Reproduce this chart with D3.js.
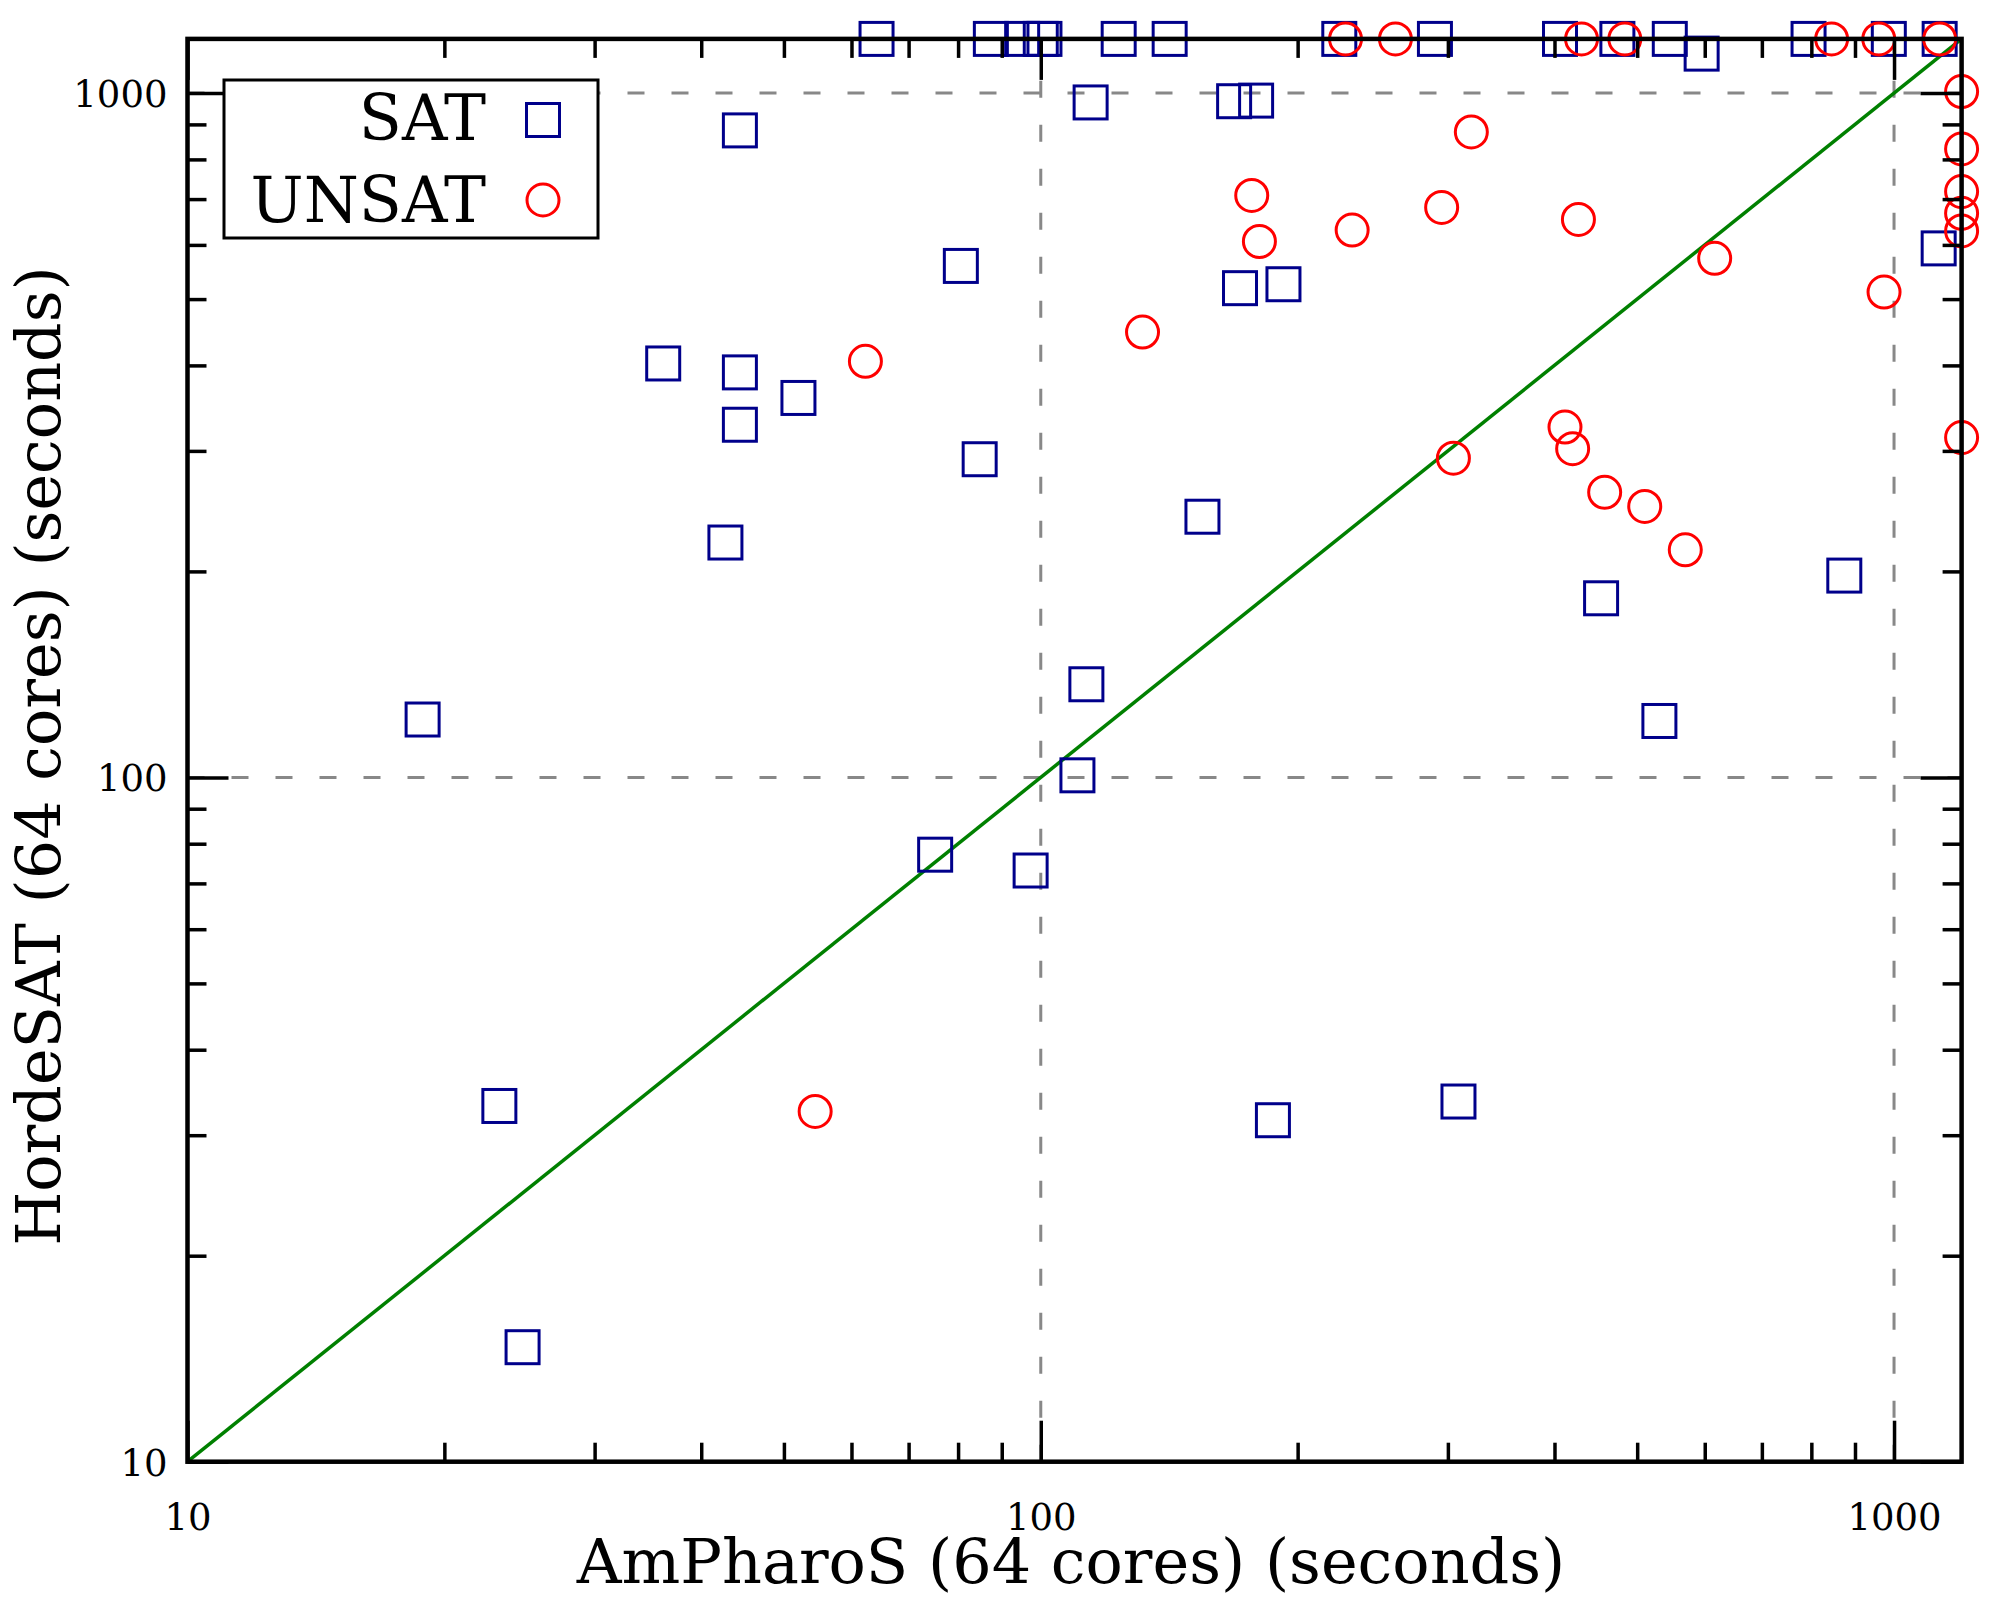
<!DOCTYPE html>
<html>
<head>
<meta charset="utf-8">
<script src="https://cdn.jsdelivr.net/npm/d3@7"></script>
<style>
  html, body { margin: 0; padding: 0; background: #ffffff; }
  svg { display: block; }
</style>
</head>
<body>
<script>
// ---------- data ----------
const satX = [64.2, 87.4, 95.1, 100.0, 101.0, 123.4, 141.6, 223.8, 289.7, 406, 474, 546, 794, 986, 1131,
              595, 1128,
              114.4, 168.5, 178.8, 44.4, 80.6, 171.2, 192.5, 36.1, 44.4, 44.4, 52.0, 84.8, 42.7, 154.7,
              453.6, 874.4, 113.1, 18.86, 530.9, 110.4, 75.2, 97.3, 23.2, 187.1, 308.7, 24.7];
const satY = [1200, 1200, 1200, 1200, 1200, 1200, 1200, 1200, 1200, 1200, 1200, 1200, 1200, 1200, 1200,
              1142, 593,
              969, 973, 975, 882, 559, 518.7, 525.6, 402.6, 390.7, 327.6, 358.5, 291.7, 220.4, 240.4,
              182.7, 197.2, 136.8, 121.5, 120.9, 100.7, 77.1, 73.1, 33.1, 31.55, 33.6, 14.7];

const unsatX = [227.6, 260.4, 430.3, 483.6, 845, 959.6, 1131,
                1200, 1200, 1200, 1200, 1200, 1200,
                319.6, 176.7, 295, 426.7, 231.7, 180.4, 616.3, 973.4, 131.6, 62.3, 411.5, 420.1,
                304.5, 458, 510.3, 569.3, 54.4];
const unsatY = [1200, 1200, 1200, 1200, 1200, 1200, 1200,
                1005, 828.6, 717.8, 667.4, 628.9, 313.7,
                877.5, 708.6, 680.5, 653.7, 630.6, 607, 573.6, 512, 447.5, 405.5, 325.1, 302.2,
                292.7, 261, 248.9, 215.1, 32.5];

const majorTicks = [10, 100, 1000];
const minorTicks = [20, 30, 40, 50, 60, 70, 80, 90, 200, 300, 400, 500, 600, 700, 800, 900];
const gridValues = [100, 1000];
const diagonal = [10, 1200];

const xTitle = "AmPharoS (64 cores) (seconds)";
const yTitle = "HordeSAT (64 cores) (seconds)";
const legendLabels = ["SAT", "UNSAT"];

// ---------- layout ----------
const W = 2000, H = 1600;
const FONT = "DejaVu Serif";
const x = d3.scaleLog().domain([10, 1200]).range([187.5, 1961.6]);
const y = d3.scaleLog().domain([10, 1200]).range([1461.7, 38.9]);
const [x0, x1] = x.range();
const [y0, y1] = y.range();

const svg = d3.select("body").append("svg")
  .attr("width", W).attr("height", H)
  .attr("font-family", FONT);

svg.append("rect").attr("width", W).attr("height", H).attr("fill", "#fff");

// grid
const grid = svg.append("g").attr("stroke", "#888").attr("stroke-width", 3).attr("stroke-dasharray", "17,27").attr("fill", "none");
grid.selectAll("line.gx").data(gridValues).join("line")
  .attr("x1", d => x(d)).attr("x2", d => x(d)).attr("y1", y0).attr("y2", y1);
grid.selectAll("line.gy").data(gridValues).join("line")
  .attr("y1", d => y(d)).attr("y2", d => y(d)).attr("x1", x0).attr("x2", x1);

// diagonal
svg.append("line")
  .attr("x1", x(diagonal[0])).attr("y1", y(diagonal[0]))
  .attr("x2", x(diagonal[1])).attr("y2", y(diagonal[1]))
  .attr("stroke", "#008000").attr("stroke-width", 3.5);

// points
const SQ = 33;
const sat = satX.map((v, i) => [v, satY[i]]);
const unsat = unsatX.map((v, i) => [v, unsatY[i]]);
svg.append("g").selectAll("rect").data(sat).join("rect")
  .attr("x", d => x(d[0]) - SQ / 2).attr("y", d => y(d[1]) - SQ / 2)
  .attr("width", SQ).attr("height", SQ)
  .attr("fill", "none").attr("stroke", "#00008b").attr("stroke-width", 3);
svg.append("g").selectAll("circle").data(unsat).join("circle")
  .attr("cx", d => x(d[0])).attr("cy", d => y(d[1])).attr("r", 16)
  .attr("fill", "none").attr("stroke", "#ff0000").attr("stroke-width", 3);

// axes
function styleAxis(g) {
  g.select(".domain").remove();
  g.selectAll(".tick line").attr("stroke", "#000").attr("stroke-width", 3.5);
  g.selectAll(".tick text").attr("fill", "#000").attr("font-family", FONT).attr("font-size", 37);
}
const fmt = d3.format("d");
const MAJ = 41, MIN = 19;

// bottom
svg.append("g").attr("transform", `translate(0,${y0})`)
  .call(d3.axisBottom(x).tickValues(majorTicks).tickSize(-MAJ).tickPadding(42).tickFormat(fmt)).call(styleAxis);
svg.append("g").attr("transform", `translate(0,${y0})`)
  .call(d3.axisBottom(x).tickValues(minorTicks).tickSize(-MIN).tickFormat("")).call(styleAxis);
// top
svg.append("g").attr("transform", `translate(0,${y1})`)
  .call(d3.axisTop(x).tickValues(majorTicks).tickSize(-MAJ).tickFormat("")).call(styleAxis);
svg.append("g").attr("transform", `translate(0,${y1})`)
  .call(d3.axisTop(x).tickValues(minorTicks).tickSize(-MIN).tickFormat("")).call(styleAxis);
// left
svg.append("g").attr("transform", `translate(${x0},0)`)
  .call(d3.axisLeft(y).tickValues(majorTicks).tickSize(-MAJ).tickPadding(20).tickFormat(fmt)).call(styleAxis)
  .selectAll(".tick text").attr("dy", "0.36em");
svg.append("g").attr("transform", `translate(${x0},0)`)
  .call(d3.axisLeft(y).tickValues(minorTicks).tickSize(-MIN).tickFormat("")).call(styleAxis);
// right
svg.append("g").attr("transform", `translate(${x1},0)`)
  .call(d3.axisRight(y).tickValues(majorTicks).tickSize(-MAJ).tickFormat("")).call(styleAxis);
svg.append("g").attr("transform", `translate(${x1},0)`)
  .call(d3.axisRight(y).tickValues(minorTicks).tickSize(-MIN).tickFormat("")).call(styleAxis);

// frame
svg.append("rect")
  .attr("x", x0).attr("y", y1).attr("width", x1 - x0).attr("height", y0 - y1)
  .attr("fill", "none").attr("stroke", "#000").attr("stroke-width", 4.5);

// titles
svg.append("text").attr("x", 1071).attr("y", 1583)
  .attr("text-anchor", "middle").attr("font-size", 62).attr("fill", "#000").text(xTitle);
svg.append("text").attr("transform", "translate(60,756) rotate(-90)")
  .attr("text-anchor", "middle").attr("font-size", 62).attr("fill", "#000").text(yTitle);

// legend
const lg = svg.append("g");
lg.append("rect").attr("x", 224).attr("y", 80).attr("width", 374).attr("height", 158)
  .attr("fill", "#fff").attr("stroke", "#000").attr("stroke-width", 3);
lg.selectAll("text").data(legendLabels).join("text")
  .attr("x", 486).attr("y", (d, i) => 140 + i * 82)
  .attr("text-anchor", "end").attr("font-size", 63).attr("fill", "#000").text(d => d);
lg.append("rect").attr("x", 543 - SQ / 2).attr("y", 120 - SQ / 2).attr("width", SQ).attr("height", SQ)
  .attr("fill", "none").attr("stroke", "#00008b").attr("stroke-width", 3);
lg.append("circle").attr("cx", 543).attr("cy", 200).attr("r", 16)
  .attr("fill", "none").attr("stroke", "#ff0000").attr("stroke-width", 3);
</script>
</body>
</html>
